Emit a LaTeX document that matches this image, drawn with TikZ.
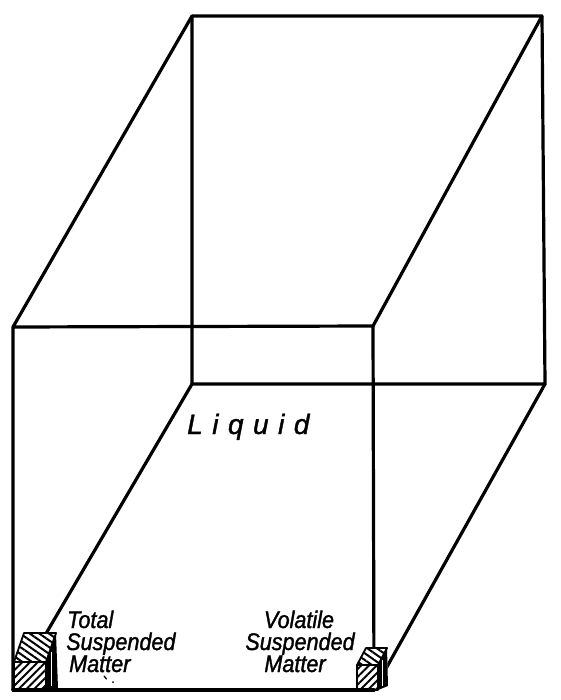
\documentclass[tikz,border=0pt]{standalone}
\usepackage{fontspec}
\newfontfamily\lettering{Liberation Sans}[ItalicFeatures={FakeBold=1.4, FakeStretch=0.9}]
\newfontfamily\letteringwide{Liberation Sans}[ItalicFeatures={FakeBold=1.4}]
\usetikzlibrary{patterns.meta}
\tikzset{
  edge/.style={line width=3.2pt, line cap=round, line join=round},
  blockline/.style={line width=1.8pt, line join=round},
  hatchA/.style={pattern={Lines[angle=45,distance=5.5pt,line width=2pt]}},
  hatchB/.style={pattern={Lines[angle=-35,distance=5.5pt,line width=2pt]}},
  lab/.style={inner sep=0pt, font=\lettering\itshape\fontsize{24}{24}\selectfont},
}
\begin{document}
\begin{tikzpicture}[x=1pt,y=-1pt]
\useasboundingbox (0,0) rectangle (561,700);
% box corners
\coordinate (ftl) at (13,327);
\coordinate (ftr) at (373,326);
\coordinate (fbr) at (374,690);
\coordinate (fbl) at (13,690);
\coordinate (btl) at (192,16);
\coordinate (btr) at (542,16);
\coordinate (bbr) at (545,384);
\coordinate (bbl) at (192,384);
% back face
\draw[edge] (btl) -- (btr) -- (bbr) -- (bbl) -- cycle;
% front face
\draw[edge] (ftl) -- (ftr) -- (fbr) -- (fbl) -- cycle;
% receding edges
\draw[edge] (ftl) -- (btl);
\draw[edge] (ftr) -- (btr);
\draw[edge] (fbl) -- (bbl);
\draw[edge] (fbr) -- (bbr);
% left block (total suspended matter)
\fill[white] (14,662) -- (14,690) -- (46,690) -- (58,688) -- (56,633) -- (24,633) -- cycle;
\path[hatchA] (14,662) rectangle (46,690);
\path[hatchB] (14,662) -- (46,662) -- (56,633) -- (24,633) -- cycle;
\draw[blockline] (14,662) rectangle (46,690);
\draw[blockline] (14,662) -- (24,633) -- (56,633) -- (46,662);
\fill[black] (46,662) -- (56,633) -- (58,688) -- (46,690) -- cycle;
\draw[white, line width=0.8pt] (51.5,652) -- (51.5,686);
% right block (volatile suspended matter)
\fill[white] (357,665) -- (357,690) -- (378,690) -- (388,686) -- (387,648) -- (366,648) -- cycle;
\path[hatchA] (357,665) rectangle (378,690);
\path[hatchB] (357,665) -- (378,665) -- (387,648) -- (366,648) -- cycle;
\draw[blockline] (357,665) rectangle (378,690);
\draw[blockline] (357,665) -- (366,648) -- (387,648) -- (378,665);
\fill[black] (378,665) -- (387,648) -- (388,686) -- (378,690) -- cycle;
\draw[white, line width=0.7pt] (382.5,660) -- (382.5,686);
% front bottom edge redrawn over blocks
\draw[edge] (fbl) -- (fbr);
% labels
\node[inner sep=0pt, font=\letteringwide\itshape\fontsize{28}{28}\selectfont, anchor=base west] (liquid) at (187,434)
  {L\hspace{9.5pt}i\hspace{9.5pt}q\hspace{9.5pt}u\hspace{9.5pt}i\hspace{9.5pt}d};
\node[lab, anchor=base west] (t1) at (67,628) {Total};
\node[lab, anchor=base west] (t2) at (66,650) {Suspended};
\node[lab, anchor=base west] (t3) at (69,672) {Matter};
\node[lab, anchor=base] (v1) at (299,628) {Volatile};
\node[lab, anchor=base] (v2) at (300,650) {Suspended};
\node[lab, anchor=base] (v3) at (295,672) {Matter};
% small stray marks
\draw[line width=1.3pt, line cap=round] (104,676) -- (106.5,679);
\fill (113,682) circle (1pt);
\end{tikzpicture}
\end{document}
